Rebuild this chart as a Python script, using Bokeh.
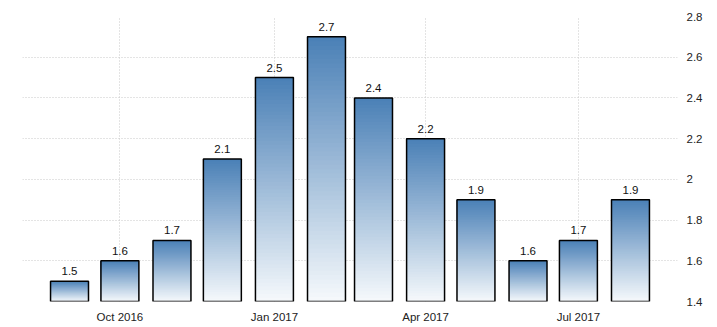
import datetime as dt
from bokeh.plotting import figure
from bokeh.models import (Range1d, FixedTicker, DatetimeTickFormatter, NumeralTickFormatter,
                          LinearAxis, ColumnDataSource)
from bokeh.embed import file_html
from bokeh.resources import INLINE
from bokeh.core.properties import value

# ---- data ----
months = ["2016-09", "2016-10", "2016-11", "2016-12", "2017-01", "2017-02",
          "2017-03", "2017-04", "2017-05", "2017-06", "2017-07", "2017-08"]
values = [1.5, 1.6, 1.7, 2.1, 2.5, 2.7, 2.4, 2.2, 1.9, 1.6, 1.7, 1.9]
x_tick_months = ["2016-10", "2017-01", "2017-04", "2017-07"]
y_ticks = [1.4, 1.6, 1.8, 2.0, 2.2, 2.4, 2.6, 2.8]
y_min, y_max = 1.4, 2.8

def to_dt(m):
    y, mo = m.split("-")
    return dt.datetime(int(y), int(mo), 1)

def ms(d):
    return (d - dt.datetime(1970, 1, 1)).total_seconds() * 1000.0

xs = [to_dt(m) for m in months]
DAY = 86400000.0
bar_w = 22.6 * DAY

p = figure(width=717, height=327, output_backend="svg", toolbar_location=None,
           x_axis_type="datetime", y_axis_location=None,
           x_range=Range1d(ms(dt.datetime(2016, 8, 4)), ms(dt.datetime(2017, 8, 29))),
           y_range=Range1d(y_min, y_max),
           min_border_left=22, min_border_right=40, min_border_top=16, min_border_bottom=26)
p.outline_line_color = None
p.background_fill_color = "white"
p.border_fill_color = "white"

# gradient bars built from layered slices (each slice runs to the bar top,
# later/higher slices paint over the lower ones -> no seams)
top_c = (0x4a, 0x80, 0xb6)
bot_c = (0xf6, 0xf9, 0xfc)
N = 60
L, R, B, T, C = [], [], [], [], []
for x, v in zip(xs, values):
    cx = ms(x)
    h = v - y_min
    for i in range(N):
        f0 = i / N
        fm = (i + 0.5) / N
        col = tuple(int(round(bot_c[k] + (top_c[k] - bot_c[k]) * fm)) for k in range(3))
        L.append(cx - bar_w / 2)
        R.append(cx + bar_w / 2)
        B.append(y_min + h * f0)
        T.append(v)
        C.append("#%02x%02x%02x" % col)
p.quad(left=L, right=R, bottom=B, top=T, fill_color=C, line_color=None)

src = ColumnDataSource(dict(x=xs, top=values, lab=[("%g" % v) for v in values]))
p.vbar(x="x", top="top", bottom=y_min, width=bar_w, source=src,
       fill_color=None, line_color="black", line_width=1.5)
p.text(x="x", y="top", text="lab", source=src, text_align="center", text_baseline="bottom",
       y_offset=-6, text_font=value("Liberation Sans"), text_font_size="11.5px",
       text_color="#111111")

# axes
xa = p.xaxis[0]
xa.ticker = FixedTicker(ticks=[ms(to_dt(m)) for m in x_tick_months])
xa.formatter = DatetimeTickFormatter(days="%b %Y", months="%b %Y", years="%b %Y",
                                     hours="%b %Y", minutes="%b %Y")
xa.axis_line_color = None
xa.major_tick_line_color = None
xa.minor_tick_line_color = None
xa.major_label_standoff = 3
xa.major_label_text_font = "Liberation Sans"
xa.major_label_text_font_size = "11.5px"
xa.major_label_text_color = "#222222"

ya = LinearAxis(ticker=FixedTicker(ticks=y_ticks), formatter=NumeralTickFormatter(format="0.[0]"))
ya.axis_line_color = None
ya.major_tick_line_color = None
ya.minor_tick_line_color = None
ya.major_label_standoff = 3
ya.major_label_text_font = "Liberation Sans"
ya.major_label_text_font_size = "11.5px"
ya.major_label_text_color = "#222222"
p.add_layout(ya, "right")

p.xgrid.ticker = xa.ticker
p.ygrid.ticker = FixedTicker(ticks=y_ticks)
for g in (p.xgrid[0], p.ygrid[0]):
    g.grid_line_color = "#c8c8c8"
    g.grid_line_dash = "1 2"
    g.grid_line_width = 1

open("out.html", "w").write(file_html(p, INLINE))
